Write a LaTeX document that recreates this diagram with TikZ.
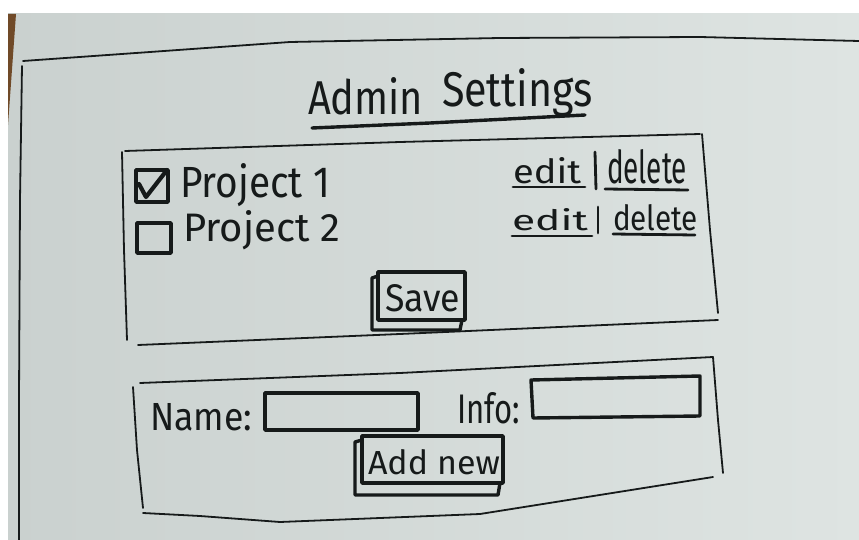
\documentclass[tikz,border=0pt]{standalone}
\usepackage{fontspec}
\setmainfont{Fira Sans}
\definecolor{paperlight}{RGB}{222,228,226}
\definecolor{paperdark}{RGB}{202,209,207}
\definecolor{ink}{RGB}{22,26,26}
\definecolor{wood}{RGB}{112,74,40}

% hand lettering squeezed into a given width and height (in pt)
\newcommand{\hw}[3]{\resizebox{#1pt}{#2pt}{#3}}

\begin{document}
\begin{tikzpicture}[x=1pt,y=-1pt,
  pen/.style={draw=ink, line width=1.8pt, line cap=round, line join=round},
  marker/.style={draw=ink, line width=3.4pt, line cap=round, line join=round},
  uline/.style={draw=ink, line width=2.8pt, line cap=round},
  hand/.style={inner sep=0pt, outer sep=0pt, anchor=base west, text=ink},
]
\useasboundingbox (0,0) rectangle (859,540);
\fill[white] (0,0) rectangle (859,540);
\shade[left color=paperdark, right color=paperlight] (8,14) rectangle (859,540);
\fill[wood] (8,14) -- (16,14) -- (8,125) -- cycle;

% page frame
\draw[pen] (23,61) -- (150,52) -- (290,42) -- (500,38) -- (700,37) -- (859,41);
\draw[pen] (22,66) -- (20,200) -- (19,400) -- (19,540);

% title
\node[hand] (admin) at (308,115) {\hw{115}{37}{Admin}};
\node[hand] (settings) at (442,107) {\hw{151}{38}{Settings}};
\draw[marker] (312,128) -- (430,123) -- (585,115);

% project list panel
\draw[pen] (125,151) -- (400,142) -- (700,134);
\draw[pen] (702,134) -- (710,230) -- (718,313);
\draw[pen] (138,345) -- (400,334) -- (718,320);
\draw[pen] (122,152) -- (124,250) -- (127,340);

% checkboxes
\draw[marker] (136,170) rectangle (168,202);
\draw[marker, line width=4.2pt] (139,184) -- (146,197) -- (167,170);
\draw[marker] (137,223) rectangle (171,253);

\node[hand] (p1) at (180,197) {\hw{150}{34}{Project 1}};
\node[hand] (p2) at (183,241) {\hw{157}{31}{Project 2}};

% edit | delete links
\node[hand] (edit1) at (513,183) {\hw{68}{26}{edit}};
\draw[uline] (513,187) -- (585,187);
\draw[uline] (595,152) -- (596,189);
\node[hand] (del1) at (607,184) {\hw{80}{34}{delete}};
\draw[uline] (605,189) -- (688,190);

\node[hand] (edit2) at (512,231) {\hw{76}{22}{edit}};
\draw[uline] (512,236) -- (592,236);
\draw[uline] (598,207) -- (598,233);
\node[hand] (del2) at (613,230) {\hw{85}{26}{delete}};
\draw[uline] (613,234) -- (695,235);

% save button
\draw[marker] (378,272) rectangle (465,320);
\draw[marker] (378,276) -- (372,278) -- (372,330) -- (460,330) -- (462,320);
\node[hand] (save) at (385,311) {\hw{75}{27}{Save}};

% add-new panel
\draw[pen] (140,383) -- (400,373) -- (713,357);
\draw[pen] (713,357) -- (718,420) -- (723,473);
\draw[pen] (143,513) -- (200,516) -- (280,522) -- (480,514) -- (713,477);
\draw[pen] (133,387) -- (137,450) -- (143,508);

\node[hand] (name) at (150,430) {\hw{102}{27}{Name:}};
\draw[marker] (265,393) rectangle (418,430);
\node[hand] (info) at (457,423) {\hw{63}{31}{Info:}};
\draw[marker] (531,380) -- (700,376) -- (700,416) -- (533,418) -- cycle;

\draw[marker] (362,436) rectangle (503,483);
\draw[marker] (362,440) -- (355,442) -- (355,495) -- (498,495) -- (500,483);
\node[hand] (add) at (368,474) {\hw{132}{25}{Add new}};
\end{tikzpicture}
\end{document}
